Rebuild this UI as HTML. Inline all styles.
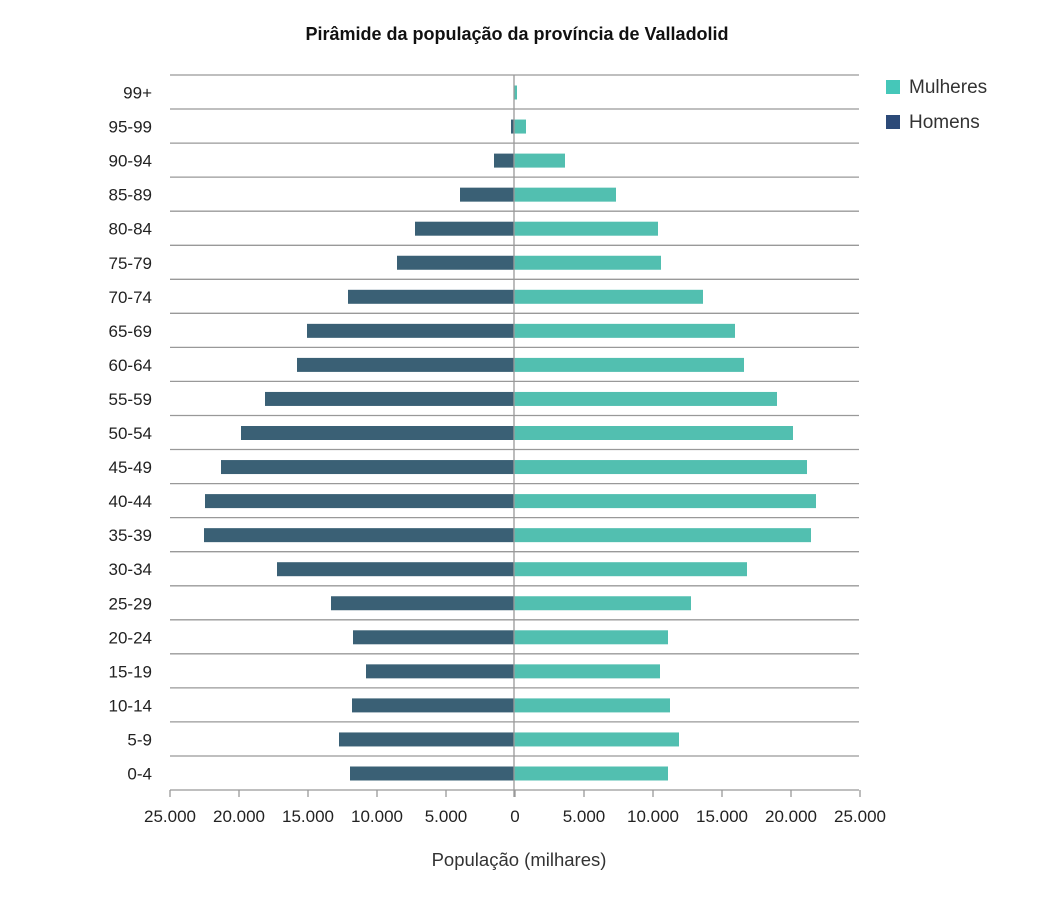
<!DOCTYPE html>
<html><head><meta charset="utf-8"><style>
html,body{margin:0;padding:0;background:#fff;}
svg text{font-family:"Liberation Sans",sans-serif;}
</style></head><body>
<svg width="1042" height="895" xmlns="http://www.w3.org/2000/svg">
<text x="517" y="40" text-anchor="middle" font-size="18" font-weight="bold" fill="#111">Pirâmide da população da província de Valladolid</text>
<g id="g"></g>
<rect x="886" y="80" width="14" height="14" fill="#45c7b9"/>
<text x="909" y="93" font-size="19" fill="#333">Mulheres</text>
<rect x="886" y="115" width="14" height="14" fill="#2c4a78"/>
<text x="909" y="128" font-size="19" fill="#333">Homens</text>
<text x="519" y="866" text-anchor="middle" font-size="18.5" fill="#333">População (milhares)</text>
</svg>
<script>
var g=document.getElementById('g'),s='';
var labels=['99+','95-99','90-94','85-89','80-84','75-79','70-74','65-69','60-64','55-59','50-54','45-49','40-44','35-39','30-34','25-29','20-24','15-19','10-14','5-9','0-4'];
var L=[514,511,494,460,415,397,348,307,297,265,241,221,205,204,277,331,353,366,352,339,350];
var R=[517,526,565,616,658,661,703,735,744,777,793,807,816,811,747,691,668,660,670,679,668];
var p=34.05;
for(var i=0;i<=21;i++){var y=(75+p*i).toFixed(1);s+='<line x1="170" x2="859" y1="'+y+'" y2="'+y+'" stroke="#999" stroke-width="1.3"/>';}
for(var i=0;i<21;i++){var y=85.5+p*i;
s+='<rect x="'+L[i]+'" y="'+y+'" width="'+(514-L[i])+'" height="14" fill="#3a6075"/>';
s+='<rect x="514" y="'+y+'" width="'+(R[i]-514)+'" height="14" fill="#52bfb0"/>';
s+='<text x="152" y="'+(y+13)+'" text-anchor="end" font-size="17" fill="#222">'+labels[i]+'</text>';}
s+='<line x1="514" x2="514" y1="75" y2="797" stroke="#999" stroke-width="1.3"/>';
var tl=['25.000','20.000','15.000','10.000','5.000','0','5.000','10.000','15.000','20.000','25.000'];
for(var k=0;k<11;k++){var x=170+69*k;s+='<line x1="'+x+'" x2="'+x+'" y1="790" y2="797" stroke="#999" stroke-width="1.3"/>';
s+='<text x="'+x+'" y="822" text-anchor="middle" font-size="17" fill="#222">'+tl[k]+'</text>';}
g.innerHTML=s;
</script>
</body></html>
